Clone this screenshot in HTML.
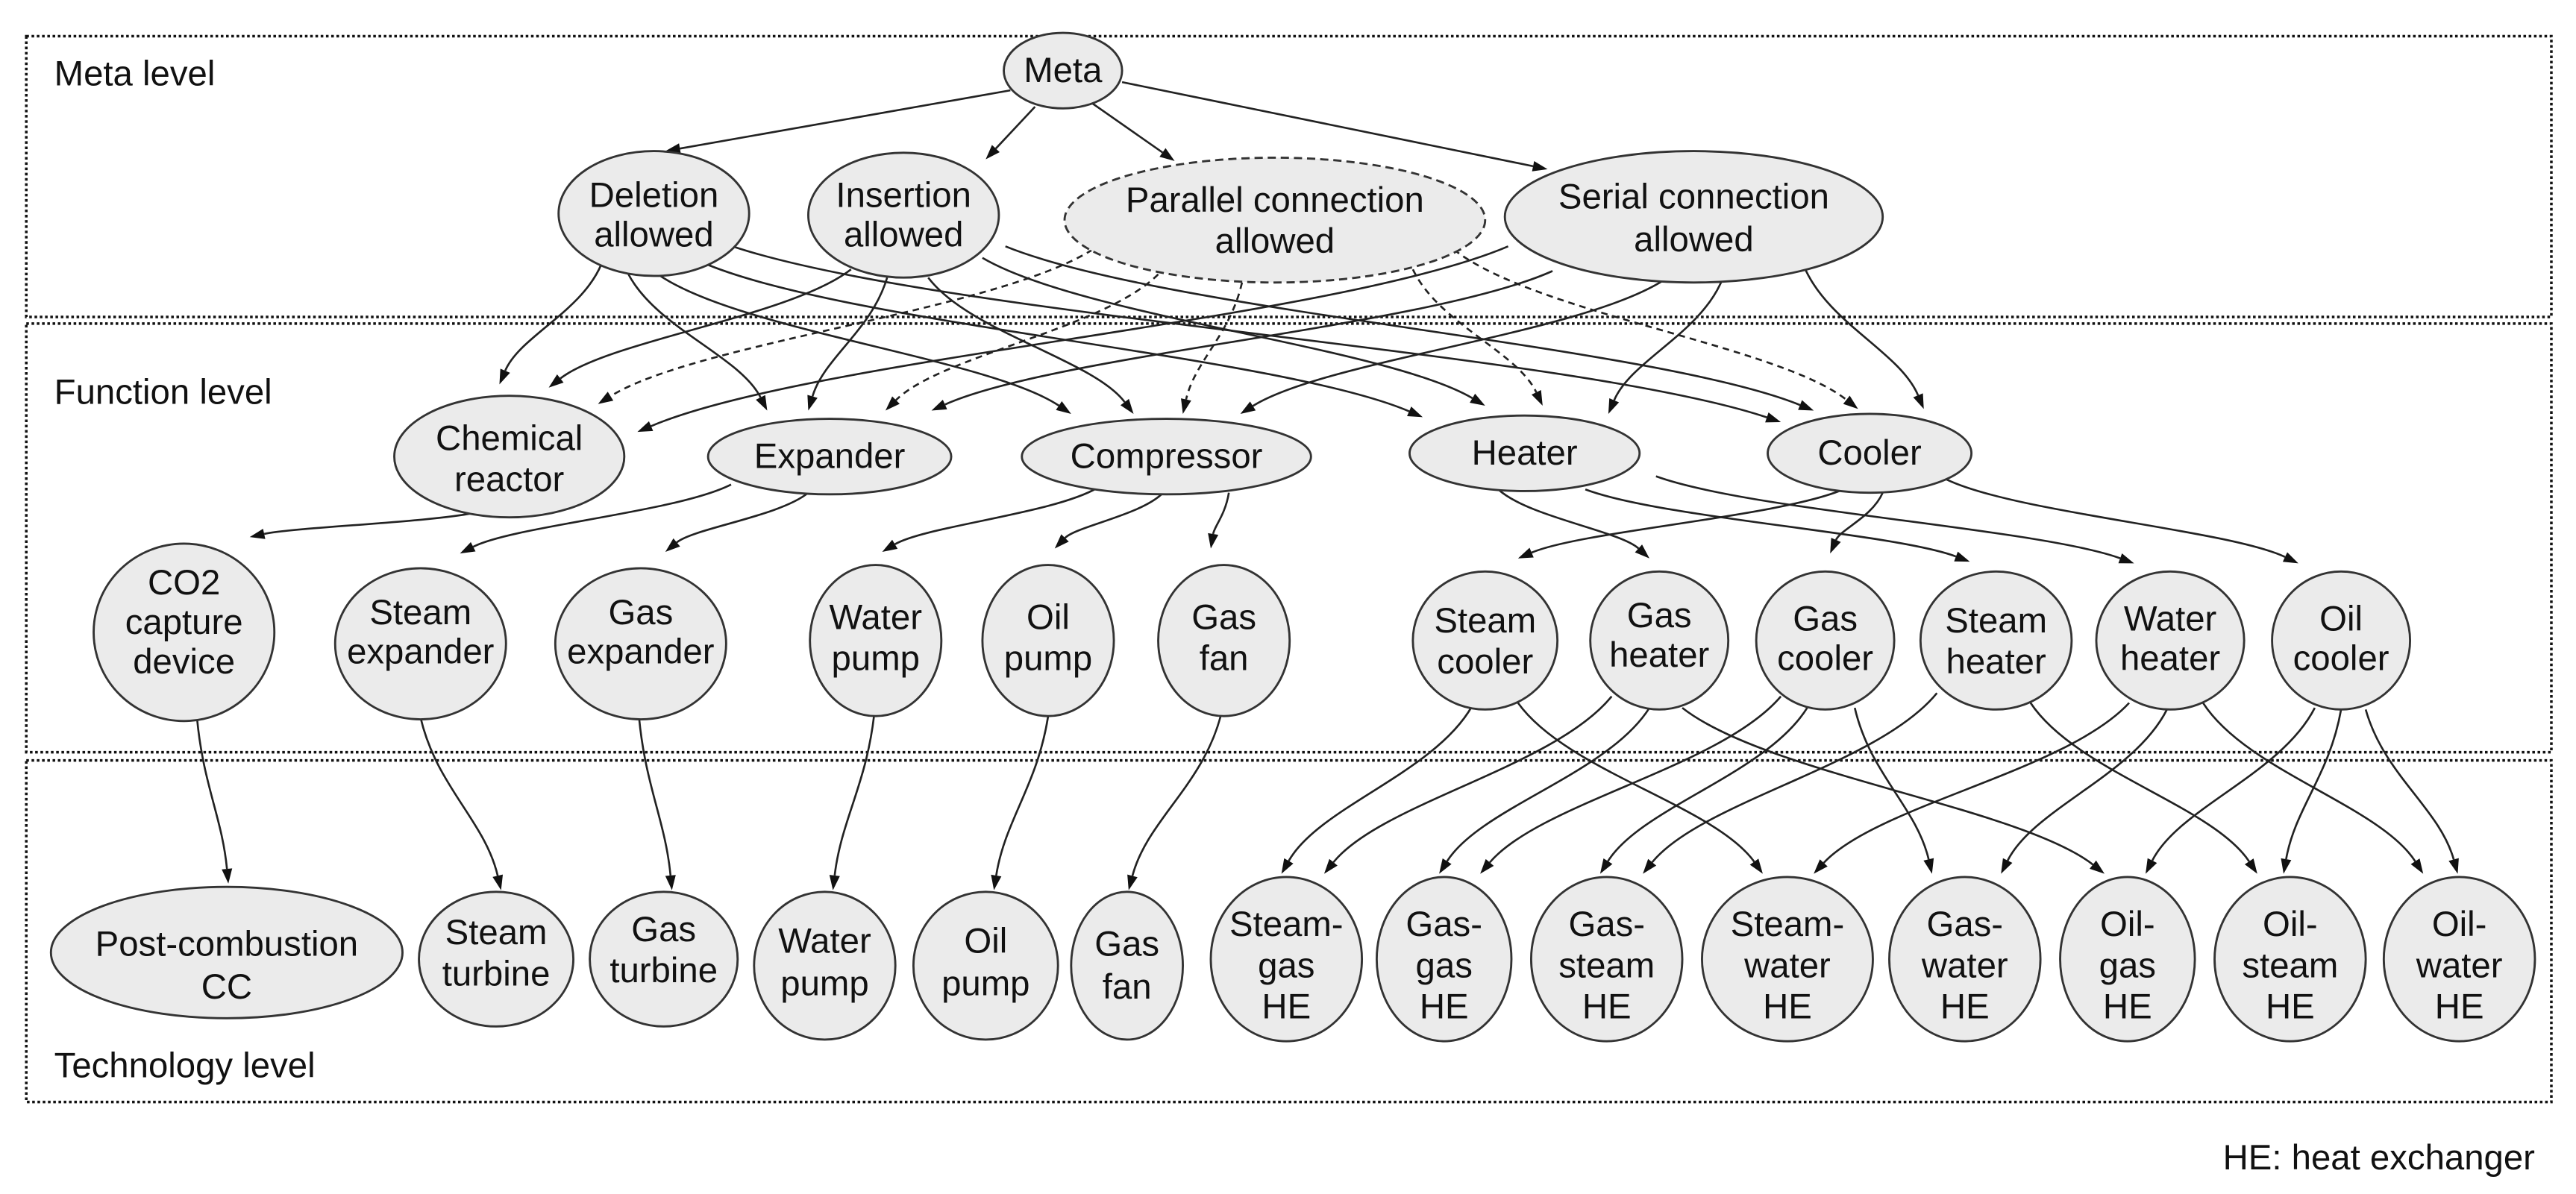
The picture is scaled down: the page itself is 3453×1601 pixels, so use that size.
<!DOCTYPE html>
<html><head><meta charset="utf-8"><style>
html,body{margin:0;padding:0;background:#fff;}
svg{display:block;}
text{font-family:"Liberation Sans",Arial,sans-serif;font-size:21.5px;fill:#111;text-anchor:middle;}
.lbl{text-anchor:start;}
</style></head><body>
<svg id="s" width="3453" height="1601" viewBox="0 0 1568 727" xmlns="http://www.w3.org/2000/svg">
<g fill="none" stroke="#111" stroke-width="1.6" stroke-dasharray="1.6 1.6">
<rect x="16" y="22" width="1537" height="171"/>
<rect x="16" y="197" width="1537" height="261"/>
<rect x="16" y="463" width="1537" height="208"/>
</g>
<text class="lbl" x="33" y="52">Meta level</text>
<text class="lbl" x="33" y="246">Function level</text>
<text class="lbl" x="33" y="656">Technology level</text>
<text x="1543" y="712" style="text-anchor:end">HE: heat exchanger</text>
<g id="edges"></g>
<g fill="#ebebeb" stroke="#333" stroke-width="1.3">
<ellipse cx="647" cy="43" rx="36" ry="23"/>
<ellipse cx="398" cy="130" rx="58" ry="38"/>
<ellipse cx="550" cy="131" rx="58" ry="38"/>
<ellipse cx="776" cy="134" rx="128" ry="38" stroke-dasharray="5 3"/>
<ellipse cx="1031" cy="132" rx="115" ry="40"/>
<ellipse cx="310" cy="278" rx="70" ry="37"/>
<ellipse cx="505" cy="278" rx="74" ry="23"/>
<ellipse cx="710" cy="278" rx="88" ry="23"/>
<ellipse cx="928" cy="276" rx="70" ry="23"/>
<ellipse cx="1138" cy="276" rx="62" ry="24"/>
<ellipse cx="112" cy="385" rx="55" ry="54"/>
<ellipse cx="256" cy="392" rx="52" ry="46"/>
<ellipse cx="390" cy="392" rx="52" ry="46"/>
<ellipse cx="533" cy="390" rx="40" ry="46"/>
<ellipse cx="638" cy="390" rx="40" ry="46"/>
<ellipse cx="745" cy="390" rx="40" ry="46"/>
<ellipse cx="904" cy="390" rx="44" ry="42"/>
<ellipse cx="1010" cy="390" rx="42" ry="42"/>
<ellipse cx="1111" cy="390" rx="42" ry="42"/>
<ellipse cx="1215" cy="390" rx="46" ry="42"/>
<ellipse cx="1321" cy="390" rx="45" ry="42"/>
<ellipse cx="1425" cy="390" rx="42" ry="42"/>
<ellipse cx="138" cy="580" rx="107" ry="40"/>
<ellipse cx="302" cy="584" rx="47" ry="41"/>
<ellipse cx="404" cy="584" rx="45" ry="41"/>
<ellipse cx="502" cy="588" rx="43" ry="45"/>
<ellipse cx="600" cy="588" rx="44" ry="45"/>
<ellipse cx="686" cy="588" rx="34" ry="45"/>
<ellipse cx="783" cy="584" rx="46" ry="50"/>
<ellipse cx="879" cy="584" rx="41" ry="50"/>
<ellipse cx="978" cy="584" rx="46" ry="50"/>
<ellipse cx="1088" cy="584" rx="52" ry="50"/>
<ellipse cx="1196" cy="584" rx="46" ry="50"/>
<ellipse cx="1295" cy="584" rx="41" ry="50"/>
<ellipse cx="1394" cy="584" rx="46" ry="50"/>
<ellipse cx="1497" cy="584" rx="46" ry="50"/>
</g>
<g>
<text x="647" y="50">Meta</text>
<text x="398" y="126">Deletion<tspan x="398" y="150">allowed</tspan></text>
<text x="550" y="126">Insertion<tspan x="550" y="150">allowed</tspan></text>
<text x="776" y="129">Parallel connection<tspan x="776" y="154">allowed</tspan></text>
<text x="1031" y="127">Serial connection<tspan x="1031" y="153">allowed</tspan></text>
<text x="310" y="274">Chemical<tspan x="310" y="299">reactor</tspan></text>
<text x="505" y="285">Expander</text>
<text x="710" y="285">Compressor</text>
<text x="928" y="283">Heater</text>
<text x="1138" y="283">Cooler</text>
<text x="112" y="362">CO2<tspan x="112" y="386">capture</tspan><tspan x="112" y="410">device</tspan></text>
<text x="256" y="380">Steam<tspan x="256" y="404">expander</tspan></text>
<text x="390" y="380">Gas<tspan x="390" y="404">expander</tspan></text>
<text x="533" y="383">Water<tspan x="533" y="408">pump</tspan></text>
<text x="638" y="383">Oil<tspan x="638" y="408">pump</tspan></text>
<text x="745" y="383">Gas<tspan x="745" y="408">fan</tspan></text>
<text x="904" y="385">Steam<tspan x="904" y="410">cooler</tspan></text>
<text x="1010" y="382">Gas<tspan x="1010" y="406">heater</tspan></text>
<text x="1111" y="384">Gas<tspan x="1111" y="408">cooler</tspan></text>
<text x="1215" y="385">Steam<tspan x="1215" y="410">heater</tspan></text>
<text x="1321" y="384">Water<tspan x="1321" y="408">heater</tspan></text>
<text x="1425" y="384">Oil<tspan x="1425" y="408">cooler</tspan></text>
<text x="138" y="582">Post-combustion<tspan x="138" y="608">CC</tspan></text>
<text x="302" y="575">Steam<tspan x="302" y="600">turbine</tspan></text>
<text x="404" y="573">Gas<tspan x="404" y="598">turbine</tspan></text>
<text x="502" y="580">Water<tspan x="502" y="606">pump</tspan></text>
<text x="600" y="580">Oil<tspan x="600" y="606">pump</tspan></text>
<text x="686" y="582">Gas<tspan x="686" y="608">fan</tspan></text>
<text x="783" y="570">Steam-<tspan x="783" y="595">gas</tspan><tspan x="783" y="620">HE</tspan></text>
<text x="879" y="570">Gas-<tspan x="879" y="595">gas</tspan><tspan x="879" y="620">HE</tspan></text>
<text x="978" y="570">Gas-<tspan x="978" y="595">steam</tspan><tspan x="978" y="620">HE</tspan></text>
<text x="1088" y="570">Steam-<tspan x="1088" y="595">water</tspan><tspan x="1088" y="620">HE</tspan></text>
<text x="1196" y="570">Gas-<tspan x="1196" y="595">water</tspan><tspan x="1196" y="620">HE</tspan></text>
<text x="1295" y="570">Oil-<tspan x="1295" y="595">gas</tspan><tspan x="1295" y="620">HE</tspan></text>
<text x="1394" y="570">Oil-<tspan x="1394" y="595">steam</tspan><tspan x="1394" y="620">HE</tspan></text>
<text x="1497" y="570">Oil-<tspan x="1497" y="595">water</tspan><tspan x="1497" y="620">HE</tspan></text>
</g>
</svg>
<script>
var E=[
[615,55,405,92,0,0.15],[630,65,600,97,0,0.15],[665,63,715,98,0,0.15],[683,50,942,103,0,0.15],
[366,161,304,234],[382,166,467,250],[402,168,652,252],[428,160,866,254],[446,150,1084,257],
[518,164,334,236],[540,169,492,250],[565,169,690,252],[598,157,904,247],[612,150,1104,250],
[665,152,364,246,1],[705,167,539,250,1],[756,172,720,252,1],[860,164,939,247,1],[885,152,1131,249,1],
[918,150,388,263],[945,165,567,250],[1012,171,755,252],[1048,171,979,252],[1098,162,1171,249],
[290,312,152,327],[445,295,280,337],[492,300,405,336],[668,297,537,336],[708,300,642,334],[748,300,737,334],
[912,298,1004,340],[965,298,1199,342],[1008,290,1299,343],
[1122,298,924,340],[1146,300,1114,337],[1185,292,1399,343],
[120,438,139,538],[256,437,305,542],[389,437,409,542],[532,436,507,542],[638,436,605,542],[743,436,687,542],
[896,430,780,532],[981,424,806,532],[1004,431,876,532],[1084,424,901,532],[1100,431,974,532],[1179,422,1000,532],
[924,428,1073,532],[1296,428,1104,532],[1129,431,1176,532],[1319,432,1218,532],[1024,431,1281,532],[1409,431,1306,532],
[1236,428,1374,532],[1425,432,1390,532],[1341,428,1475,532],[1440,432,1496,532]
];
var g=document.getElementById('edges'),h='';
E.forEach(function(e){
var sx=e[0],sy=e[1],tx=e[2],ty=e[3],d=e[4],k=e[5]===undefined?0.4:e[5];
var dy=ty-sy,dx=tx-sx;
var c1x=sx+dx*0.2,c1y=sy+dy*k,c2x=tx-dx*0.2,c2y=ty-dy*k;
if(k<0.3){c1x=sx+dx*0.33;c1y=sy+dy*0.33;c2x=sx+dx*0.67;c2y=sy+dy*0.67;}
var ux=tx-c2x,uy=ty-c2y,L=Math.sqrt(ux*ux+uy*uy)||1;ux/=L;uy/=L;
var al=9,aw=3.2,bx=tx-ux*al,by=ty-uy*al;
h+='<path d="M'+sx+' '+sy+' C'+c1x+' '+c1y+' '+c2x+' '+c2y+' '+bx+' '+by+'" fill="none" stroke="#222" stroke-width="1.2"'+(d?' stroke-dasharray="4 3"':'')+'/>';
h+='<polygon points="'+tx+','+ty+' '+(bx-uy*aw)+','+(by+ux*aw)+' '+(bx+uy*aw)+','+(by-ux*aw)+'" fill="#111"/>';
});
g.innerHTML=h;
</script>
</body></html>
